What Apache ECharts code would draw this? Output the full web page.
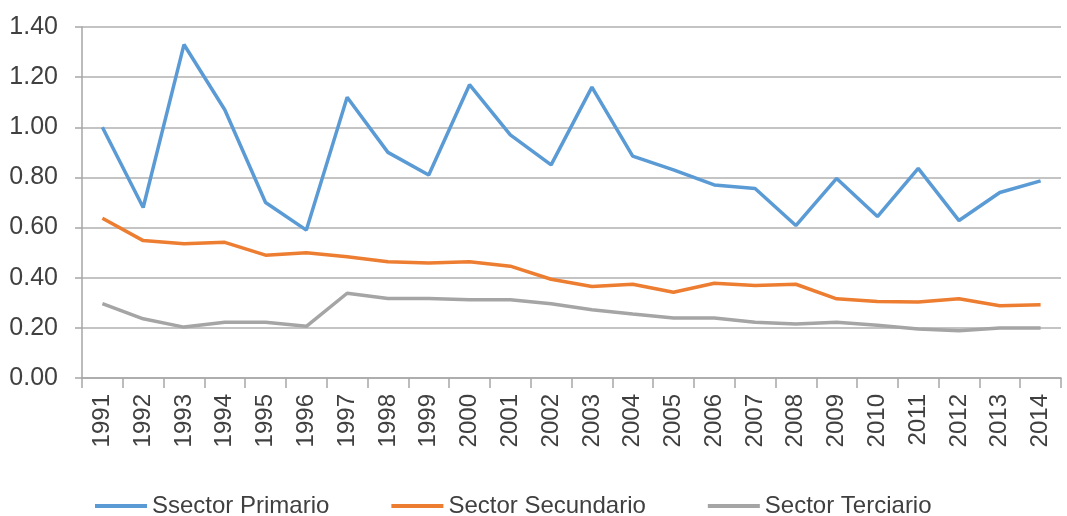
<!DOCTYPE html>
<html>
<head>
<meta charset="utf-8">
<script src="https://cdn.jsdelivr.net/npm/echarts@6/dist/echarts.min.js"></script>
<style>
  html, body { margin: 0; padding: 0; background: #fff; }
  #chart { width: 1067px; height: 516px; }
</style>
</head>
<body>
<div id="chart"></div>
<script>
var years = ['1991', '1992', '1993', '1994', '1995', '1996', '1997', '1998', '1999', '2000', '2001', '2002',
  '2003', '2004', '2005', '2006', '2007', '2008', '2009', '2010', '2011', '2012', '2013', '2014']
var primario = [1.00, 0.68, 1.33, 1.07, 0.70, 0.59, 1.12, 0.90, 0.81, 1.17, 0.97, 0.85,
  1.16, 0.885, 0.83, 0.77, 0.756, 0.608, 0.796, 0.644, 0.836, 0.628, 0.74, 0.786]
var secundario = [0.637, 0.548, 0.535, 0.541, 0.49, 0.50, 0.484, 0.464, 0.459, 0.464, 0.446, 0.394,
  0.365, 0.374, 0.342, 0.378, 0.369, 0.374, 0.316, 0.305, 0.303, 0.316, 0.288, 0.292]
var terciario = [0.297, 0.236, 0.203, 0.222, 0.222, 0.206, 0.338, 0.317, 0.317, 0.312, 0.312, 0.296,
  0.272, 0.255, 0.239, 0.239, 0.222, 0.215, 0.222, 0.21, 0.195, 0.188, 0.199, 0.199]
var seriesNames = ['Ssector Primario', 'Sector Secundario', 'Sector Terciario']
var colors = ['#5b9bd5', '#ed7d31', '#a5a5a5']

var font = 'Liberation Sans'
var lineSeries = function (name, data, color) {
  return {
    name: name,
    type: 'line',
    data: data,
    symbol: 'none',
    lineStyle: { color: color, width: 3.5 },
    itemStyle: { color: color }
  }
}

var myChart = echarts.init(document.getElementById('chart'))
myChart.setOption({
  animation: false,
  color: colors,
  grid: { left: 82, right: 6, top: 27, bottom: 138 },
  legend: {
    left: 95,
    top: 494,
    padding: 0,
    icon: 'rect',
    itemWidth: 52,
    itemHeight: 4,
    itemGap: 62,
    textStyle: { fontFamily: font, fontSize: 24, color: '#404040' },
    data: seriesNames
  },
  xAxis: {
    type: 'category',
    data: years,
    boundaryGap: true,
    axisLine: { lineStyle: { color: '#a6a6a6', width: 1.5 } },
    axisTick: { show: true, length: 10, lineStyle: { color: '#a6a6a6', width: 1.5 } },
    axisLabel: { rotate: 90, fontFamily: font, fontSize: 24, color: '#404040', margin: 16 }
  },
  yAxis: {
    type: 'value',
    min: 0,
    max: 1.4,
    interval: 0.2,
    axisLine: { show: true, lineStyle: { color: '#a6a6a6', width: 1.5 } },
    axisTick: { show: true, length: 7, lineStyle: { color: '#a6a6a6', width: 1.5 } },
    splitLine: { lineStyle: { color: '#b0b0b0', width: 1.5 } },
    axisLabel: {
      fontFamily: font, fontSize: 25, color: '#404040', margin: 24,
      formatter: function (v) { return v.toFixed(2) }
    }
  },
  series: [
    lineSeries(seriesNames[0], primario, colors[0]),
    lineSeries(seriesNames[1], secundario, colors[1]),
    lineSeries(seriesNames[2], terciario, colors[2])
  ]
})
</script>
</body>
</html>
